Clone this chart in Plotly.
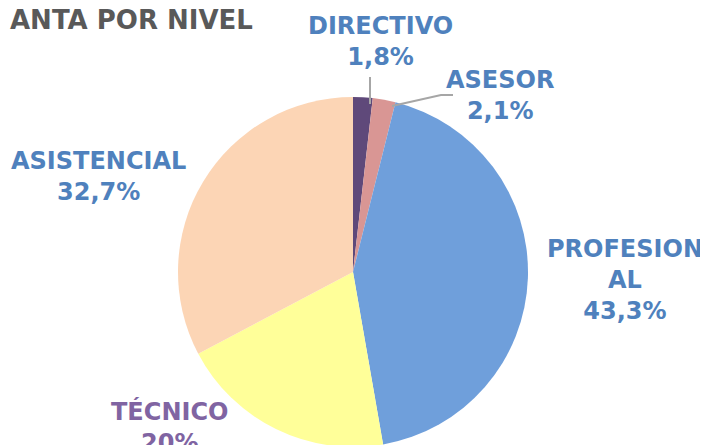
import plotly.graph_objects as go

categories = ["DIRECTIVO", "ASESOR", "PROFESIONAL", "TÉCNICO", "ASISTENCIAL"]
label_texts = ["DIRECTIVO", "ASESOR", "PROFESION<br>AL", "TÉCNICO", "ASISTENCIAL"]
values = [1.8, 2.1, 43.3, 20.0, 32.7]
colors = ["#5F497A", "#D99694", "#6F9FDB", "#FFFF99", "#FCD5B5"]
label_colors = ["#4F81BD", "#4F81BD", "#4F81BD", "#8064A2", "#4F81BD"]
title_text = "ANTA POR NIVEL"

W, H = 708, 445

def fmt(v):
    s = ("%d" % v) if float(v).is_integer() else ("%.1f" % v)
    return s.replace(".", ",") + "%"

# pie placement (pixels), corrected for plotly's offset
cx, cy, r = 345, 264, 175

fig = go.Figure(go.Pie(
    labels=categories, values=values, sort=False, direction="clockwise",
    rotation=0, marker=dict(colors=colors, line=dict(width=0)),
    textinfo="none", hoverinfo="label+percent", showlegend=False,
    domain=dict(x=[(cx - r) / W, (cx + r) / W], y=[1 - (cy + r) / H, 1 - (cy - r) / H]),
))

# label anchor centers (pixels, corrected for rendering offset)
label_pos = [(372, 33), (492, 87), (617, 272), (161, 419), (90, 168)]
annotations = []
for txt, v, col, (px, py) in zip(label_texts, values, label_colors, label_pos):
    annotations.append(dict(
        text=f"<b>{txt}<br>{fmt(v)}</b>", x=px / W, y=1 - py / H, xref="paper", yref="paper",
        showarrow=False, xanchor="center", yanchor="middle", align="center",
        font=dict(family="DejaVu Sans", size=24, color=col),
    ))
annotations.append(dict(
    text=f"<b>{title_text}</b>", x=0, y=1 - 12 / H, xref="paper", yref="paper",
    showarrow=False, xanchor="left", yanchor="middle",
    font=dict(family="DejaVu Sans", size=26, color="#595959"),
))

def line(pts):
    path = "M " + " L ".join(f"{x / W},{1 - y / H}" for x, y in pts)
    return dict(type="path", path=path, xref="paper", yref="paper",
                line=dict(color="#A6A6A6", width=2))

shapes = [line([(362, 69), (362, 96)]), line([(384, 98), (433, 87), (445, 87)])]

fig.update_layout(
    width=W, height=H, margin=dict(l=0, r=0, t=0, b=0),
    paper_bgcolor="white", plot_bgcolor="white",
    annotations=annotations, shapes=shapes,
)
fig.write_html("out.html")
